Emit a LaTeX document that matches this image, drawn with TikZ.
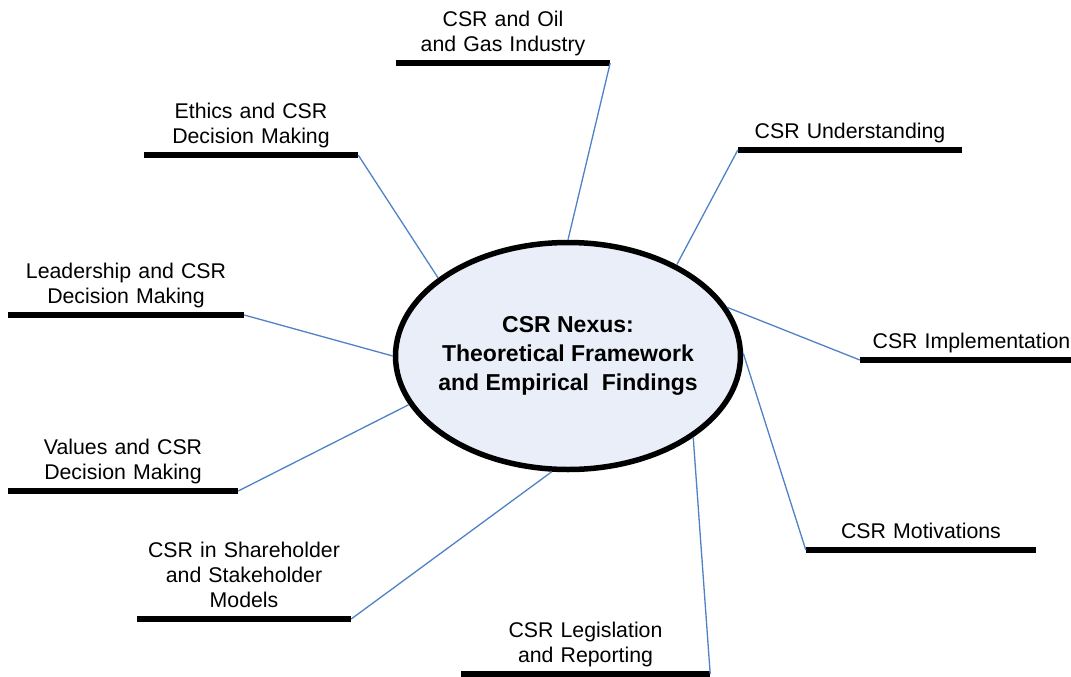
\documentclass[tikz,border=0pt]{standalone}
\usepackage{fontspec}
\setmainfont{Liberation Sans}
\usetikzlibrary{shapes.geometric}

\definecolor{hubfill}{RGB}{233,238,248}
\definecolor{linkblue}{RGB}{79,129,199}

\tikzset{
  hub/.style={ellipse,draw=black,line width=5.5pt,fill=hubfill,minimum width=345pt,minimum height=227pt,inner sep=0pt},
  hubtext/.style={font=\fontsize{23}{28.7}\selectfont\bfseries,align=center,inner sep=0pt},
  topic/.style={anchor=south,text width=#1,align=center,inner xsep=0pt,inner ysep=3.5pt,execute at end node=\strut,font=\fontsize{21.3}{25}\selectfont},
  bar/.style={line width=6.5pt,black},
  link/.style={line width=1.3pt,linkblue}
}

\begin{document}
\begin{tikzpicture}[x=1pt,y=-1pt]
\useasboundingbox (0,0) rectangle (1071,677);
% central topic
\node[hub] (nexus) at (568,356) {};
\node[hubtext] (nexustitle) at (nexus.center) {CSR Nexus:\\Theoretical Framework\\and Empirical~ Findings};
% surrounding topics
\node[topic=214pt] (oil) at (503,63) {CSR and Oil\\and Gas Industry};
\node[topic=214pt] (ethics) at (251,155) {Ethics and CSR\\Decision Making};
\node[topic=224pt] (understanding) at (850,150) {CSR Understanding};
\node[topic=236pt] (leadership) at (126,315) {Leadership and CSR\\Decision Making};
\node[topic=211pt] (implementation) at (965.5,360) {\hspace*{12pt}CSR Implementation};
\node[topic=230pt] (values) at (123,491) {Values and CSR\\Decision Making};
\node[topic=230pt] (motivations) at (921,550) {CSR Motivations};
\node[topic=214pt] (models) at (244,619) {CSR in Shareholder\\and Stakeholder\\Models};
\node[topic=249pt] (legislation) at (585.5,674) {CSR Legislation\\and Reporting};
% bars under the labels
\foreach \t in {oil,ethics,understanding,leadership,implementation,values,motivations,models,legislation}
  \draw[bar] (\t.south west) -- (\t.south east);
% connectors to the ellipse
\foreach \t/\e/\a in {oil/east/90,ethics/east/149,understanding/west/40,leadership/east/180,implementation/west/17,values/east/197,motivations/west/1,models/east/262,legislation/east/327}
  \draw[link] (\t.south \e) -- (nexus.\a);
\end{tikzpicture}
\end{document}
